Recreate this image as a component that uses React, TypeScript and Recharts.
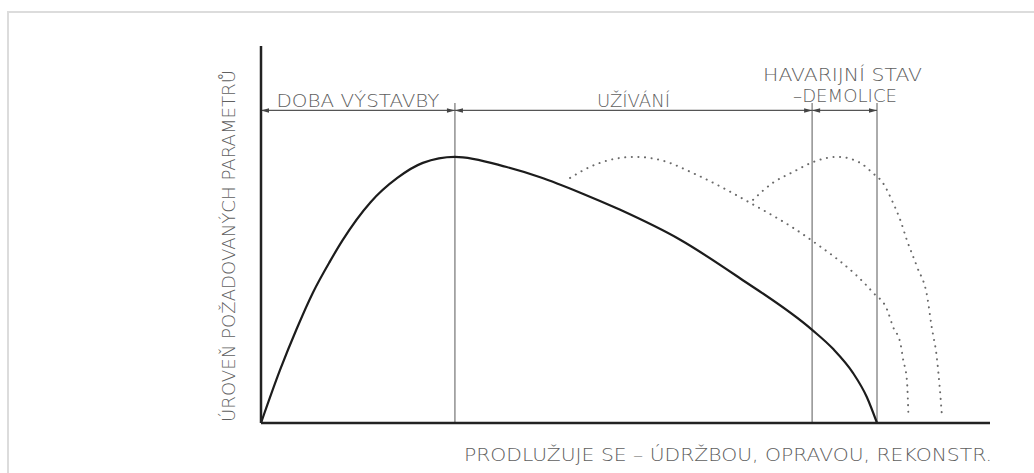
import { ComposedChart, Line, XAxis, YAxis, ReferenceLine, Label } from "recharts";

// life-cycle curve of a building (time vs. level of required parameters), 0..100 units
const lifeX = [0, 2.6, 4.9, 7.1, 9.5, 11.2, 15.0, 18.7, 22.2, 26.6, 33.7, 38.3, 43.8, 49.2, 57.5, 65.7, 75.6, 78.5, 81.2, 83.1, 84.5];
const lifeY = [0, 14.0, 25.0, 34.5, 43.0, 48.5, 58.5, 65.0, 69.0, 70.6, 67.9, 65.2, 61.1, 56.6, 48.6, 38.4, 24.7, 19.6, 13.3, 6.9, 0];

// first extension (maintenance / repair)
const ext1X = [42.4, 45.1, 47.9, 51.3, 54.7, 59.8, 67.1, 74.9, 83.9, 85.9, 86.7, 87.7, 88.1, 88.6, 88.8];
const ext1Y = [65.0, 67.9, 69.8, 70.6, 69.8, 65.8, 58.4, 49.3, 34.7, 30.0, 25.5, 21.2, 16.7, 11.4, 2.7];

// second extension (reconstruction)
const ext2X = [67.5, 70.2, 73.0, 75.7, 79.1, 82.2, 83.9, 85.3, 86.7, 87.7, 88.6, 90.0, 91.4, 92.0, 92.7, 93.1, 93.4];
const ext2Y = [59.2, 63.7, 66.6, 69.2, 70.6, 69.0, 66.3, 63.7, 58.4, 53.8, 48.5, 41.4, 33.4, 25.5, 17.5, 9.5, 2.1];

// phase boundaries on the time axis and the dimension line level
const phaseBounds = [0, 26.6, 75.6, 84.5];
const phaseLabels = [["DOBA VÝSTAVBY"], ["UŽÍVÁNÍ"], ["HAVARIJNÍ STAV", "–DEMOLICE"]];
const dimLevel = 82.9;
const boundTop = 84.9;

const yTitle = "ÚROVEŇ POŽADOVANÝCH PARAMETRŮ";
const xTitle = "PRODLUŽUJE SE – ÚDRŽBOU, OPRAVOU, REKONSTR.";

const zip = (xs: number[], ys: number[]) => xs.map((x, i) => ({ x, y: ys[i] }));
const lifeData = zip(lifeX, lifeY);
const ext1Data = zip(ext1X, ext1Y);
const ext2Data = zip(ext2X, ext2Y);

const FONT = "'DejaVu Sans', sans-serif";
const INK = "#606060";
const WEIGHT = 200;

// text layout per phase label line: [lift above dim line, text length, x shift]
const labelLayout: Record<string, [number, number, number]> = {
  "DOBA VÝSTAVBY": [3.5, 163, 0],
  "UŽÍVÁNÍ": [3.5, 73, 0],
  "HAVARIJNÍ STAV": [29.5, 159, -2],
  "–DEMOLICE": [8.5, 104, 0.5],
};

const dimShape = (lines: string[]) => (p: any) => {
  const { x1, x2, y1 } = p;
  const ah = 8;
  const aw = 2.2;
  const cx = (x1 + x2) / 2;
  return (
    <g>
      <line x1={x1} y1={y1} x2={x2} y2={y1} stroke="#555" strokeWidth={1.2} />
      <path d={`M${x1},${y1} L${x1 + ah},${y1 - aw} L${x1 + ah},${y1 + aw} Z`} fill="#444" />
      <path d={`M${x2},${y1} L${x2 - ah},${y1 - aw} L${x2 - ah},${y1 + aw} Z`} fill="#444" />
      {lines.map((t) => {
        const [lift, len, shift] = labelLayout[t];
        return (
          <text
            key={t}
            x={cx + shift}
            y={y1 - lift}
            textAnchor="middle"
            fontFamily={FONT}
            fontWeight={WEIGHT}
            fontSize={18}
            fill={INK}
            textLength={len}
            lengthAdjust="spacingAndGlyphs"
          >
            {t}
          </text>
        );
      })}
    </g>
  );
};

const YTitle = (props: any) => {
  const vb = props.viewBox;
  const x = vb.x + vb.width - 26;
  const y = vb.y + vb.height - 1;
  return (
    <text
      x={x}
      y={y}
      transform={`rotate(-90 ${x} ${y})`}
      textAnchor="start"
      fontFamily={FONT}
      fontWeight={WEIGHT}
      fontSize={18}
      fill={INK}
      textLength={352}
      lengthAdjust="spacingAndGlyphs"
    >
      {yTitle}
    </text>
  );
};

const XTitle = (props: any) => {
  const vb = props.viewBox;
  return (
    <text
      x={vb.x + vb.width + 2}
      y={vb.y + 38}
      textAnchor="end"
      fontFamily={FONT}
      fontWeight={WEIGHT}
      fontSize={18}
      fill={INK}
      textLength={528}
      lengthAdjust="spacingAndGlyphs"
    >
      {xTitle}
    </text>
  );
};

export default function App() {
  return (
    <div style={{ position: "absolute", left: 0, top: 0, width: 1034, height: 473, background: "#fff", overflow: "hidden" }}>
      {/* light frame */}
      <div
        style={{
          position: "absolute",
          left: 7,
          top: 11,
          width: 1100,
          height: 600,
          borderTop: "2px solid #dcdcdc",
          borderLeft: "2px solid #dcdcdc",
        }}
      />
      <div style={{ position: "absolute", left: 0, top: 0 }}>
        <ComposedChart width={1034} height={473} margin={{ top: 46, right: 44, bottom: 20, left: 201 }}>
          <XAxis
            type="number"
            dataKey="x"
            domain={[0, 100]}
            allowDataOverflow
            height={30}
            tick={false}
            tickLine={false}
            axisLine={{ stroke: "#222", strokeWidth: 2.5 }}
          >
            <Label content={XTitle} />
          </XAxis>
          <YAxis
            type="number"
            dataKey="y"
            domain={[0, 100]}
            allowDataOverflow
            width={60}
            tick={false}
            tickLine={false}
            axisLine={{ stroke: "#222", strokeWidth: 2.5 }}
          >
            <Label content={YTitle} />
          </YAxis>

          {phaseBounds.slice(1).map((b) => (
            <ReferenceLine
              key={`b${b}`}
              segment={[{ x: b, y: 0 }, { x: b, y: boundTop }]}
              stroke="#888"
              strokeWidth={1.4}
            />
          ))}

          {phaseBounds.slice(1).map((b, i) => (
            <ReferenceLine
              key={`d${b}`}
              segment={[{ x: phaseBounds[i], y: dimLevel }, { x: b, y: dimLevel }]}
              shape={dimShape(phaseLabels[i])}
            />
          ))}

          <Line
            data={ext1Data}
            dataKey="y"
            type="monotone"
            stroke="#6a6a6a"
            strokeWidth={2}
            strokeDasharray="0.1 6.5"
            strokeLinecap="round"
            dot={false}
            activeDot={false}
            isAnimationActive={false}
          />
          <Line
            data={ext2Data}
            dataKey="y"
            type="monotone"
            stroke="#6a6a6a"
            strokeWidth={2}
            strokeDasharray="0.1 6.5"
            strokeLinecap="round"
            dot={false}
            activeDot={false}
            isAnimationActive={false}
          />
          <Line
            data={lifeData}
            dataKey="y"
            type="monotone"
            stroke="#1c1c1c"
            strokeWidth={2.2}
            dot={false}
            activeDot={false}
            isAnimationActive={false}
          />
        </ComposedChart>
      </div>
    </div>
  );
}
